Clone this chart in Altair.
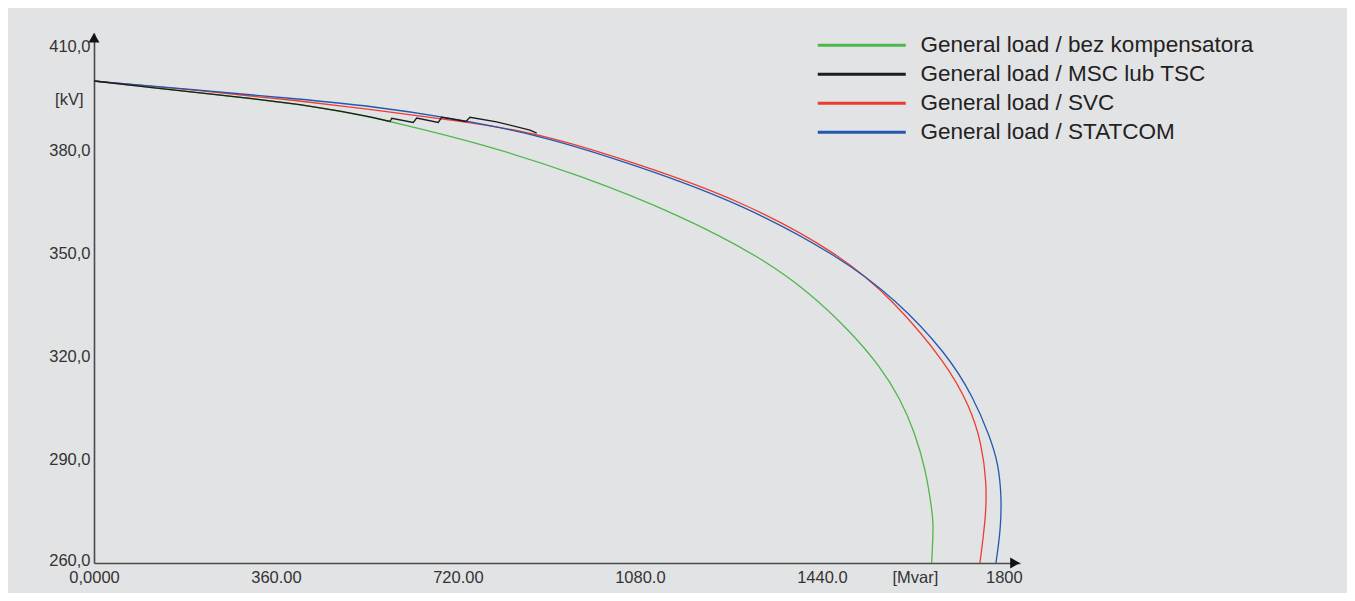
import json
import altair as alt
import pandas as pd

SERIES = [
    "General load / bez kompensatora",
    "General load / MSC lub TSC",
    "General load / SVC",
    "General load / STATCOM",
]
COLORS = ["#4db84a", "#1c1c1c", "#ee3b30", "#2358ae"]

GREEN_MVAR = [0, 110.8, 209.7, 308.6, 407.5, 486.6, 546.0, 585.6, 763.6, 961.4, 1159.2,
              1317.5, 1416.4, 1495.5, 1554.9, 1594.5, 1624.1, 1645.9, 1657.8, 1660.7,
              1658.9, 1657.2]
GREEN_KV = [400.05, 398.2, 396.6, 395.0, 393.2, 391.3, 389.6, 388.3, 382.0, 372.7, 361.1,
            349.0, 338.5, 327.4, 317.2, 307.9, 297.9, 286.8, 275.4, 271.0,
            265.2, 260.0]

BLACK_MVAR = [0, 110.8, 209.7, 308.6, 407.5, 486.6, 546.0, 585.6, 589.0, 631.7, 638.4,
              681.1, 687.8, 735.9, 743.8, 796.6, 862.5, 875.8]
BLACK_KV = [400.05, 398.2, 396.6, 395.0, 393.2, 391.3, 389.6, 388.3, 389.2, 388.0, 389.3,
            388.0, 389.5, 388.3, 389.5, 388.2, 385.8, 384.9]

RED_MVAR = [0, 209.7, 407.5, 546.0, 724.0, 882.3, 1080.1, 1278.0, 1475.8, 1581.2,
            1686.8, 1732.9, 1756.1, 1766.0, 1764.6, 1752.7]
RED_KV = [400.05, 397.3, 394.3, 391.8, 388.4, 384.9, 375.8, 365.5, 349.8, 336.4,
          318.0, 305.4, 294.8, 283.2, 273.5, 260.0]

BLUE_MVAR = [0, 209.7, 407.5, 546.0, 704.3, 882.3, 1080.1, 1278.0, 1475.8, 1587.9,
             1686.8, 1739.5, 1772.5, 1788.9, 1795.6, 1793.7, 1784.4]
BLUE_KV = [400.05, 397.4, 394.8, 392.8, 389.4, 384.4, 375.2, 364.6, 349.0, 336.4,
           320.9, 308.3, 296.7, 289.0, 279.3, 269.6, 260.0]

X_TICKS = [0, 360, 720, 1080, 1440, 1624, 1800]
X_LABELS = ["0,0000", "360.00", "720.00", "1080.0", "1440.0", "[Mvar]", "1800"]
Y_TICKS = [260, 290, 320, 350, 380, 394.7, 410]
Y_LABELS = ["260,0", "290,0", "320,0", "350,0", "380,0", "[kV]", "410,0"]

X_DOMAIN = [0, 1832]
Y_DOMAIN = [260, 414]

ARROW_UP = {"mvar": [0], "kv": [412.6]}
ARROW_RIGHT = {"mvar": [1822], "kv": [260]}

rows = []
for name, xs, ys in [
    (SERIES[0], GREEN_MVAR, GREEN_KV),
    (SERIES[2], RED_MVAR, RED_KV),
    (SERIES[3], BLUE_MVAR, BLUE_KV),
    (SERIES[1], BLACK_MVAR, BLACK_KV),
]:
    for i, (xv, yv) in enumerate(zip(xs, ys)):
        rows.append({"series": name, "mvar": xv, "kv": yv, "i": i})
df = pd.DataFrame(rows)

FONT = "Liberation Sans"

x_enc = alt.X(
    "mvar:Q",
    scale=alt.Scale(domain=X_DOMAIN, nice=False, zero=False),
    axis=alt.Axis(
        values=X_TICKS,
        labelExpr=f"{json.dumps(X_LABELS)}[indexof({json.dumps(X_TICKS)}, datum.value)]",
        title=None, grid=False, ticks=False, labelPadding=6,
        labelFlush=False, labelOverlap=False,
        domainColor="#4a4a4a", domainWidth=1.6,
        labelFont=FONT, labelFontSize=16.5, labelColor="#333333",
    ),
)
y_enc = alt.Y(
    "kv:Q",
    scale=alt.Scale(domain=Y_DOMAIN, nice=False, zero=False),
    axis=alt.Axis(
        values=Y_TICKS,
        labelExpr=f"{json.dumps(Y_LABELS)}[indexof({json.dumps(Y_TICKS)}, datum.value)]",
        title=None, grid=False, ticks=False,
        labelPadding={"condition": {"test": "datum.value > 390 && datum.value < 400", "value": 11}, "value": 4},
        labelOffset={"condition": {"test": "datum.value < 261", "value": -3}, "value": 0},
        labelFlush=False, labelOverlap=False,
        domainColor="#4a4a4a", domainWidth=1.6,
        labelFont=FONT, labelFontSize=16.5, labelColor="#333333",
    ),
)

color_enc = alt.Color(
    "series:N",
    scale=alt.Scale(domain=SERIES, range=COLORS),
    legend=alt.Legend(
        title=None, orient="none", legendX=756.5, legendY=1,
        symbolType="M-8,0H8", symbolSize=121, symbolStrokeWidth=3,
        labelFont=FONT, labelFontSize=22.5, labelColor="#222222",
        labelOffset=47.5, rowPadding=6, padding=0, labelLimit=0,
    ),
)

base = alt.Chart(df).encode(x=x_enc, y=y_enc, color=color_enc, order=alt.Order("i:Q"))

green = base.transform_filter(alt.datum.series == SERIES[0]).mark_line(
    strokeWidth=1.3, interpolate="basis")
red = base.transform_filter(alt.datum.series == SERIES[2]).mark_line(
    strokeWidth=1.3, interpolate="basis")
blue = base.transform_filter(alt.datum.series == SERIES[3]).mark_line(
    strokeWidth=1.3, interpolate="basis")
black = base.transform_filter(alt.datum.series == SERIES[1]).mark_line(
    strokeWidth=1.3, interpolate="linear")

up = alt.Chart(pd.DataFrame(ARROW_UP)).mark_point(
    shape="triangle-up", filled=True, size=120, color="#111111", opacity=1
).encode(x=x_enc, y=y_enc)
right = alt.Chart(pd.DataFrame(ARROW_RIGHT)).mark_point(
    shape="triangle-right", filled=True, size=120, color="#111111", opacity=1
).encode(x=x_enc, y=y_enc)

chart = alt.layer(green, red, blue, black, up, right).properties(
    width=926,
    height=530,
    autosize=alt.AutoSizeParams(type="none"),
    padding={"left": 86, "top": 25, "right": 327, "bottom": 30},
    background="#e2e3e5",
).configure_view(stroke=None)

chart.save("out.html", embed_options={"renderer": "svg", "actions": False})
